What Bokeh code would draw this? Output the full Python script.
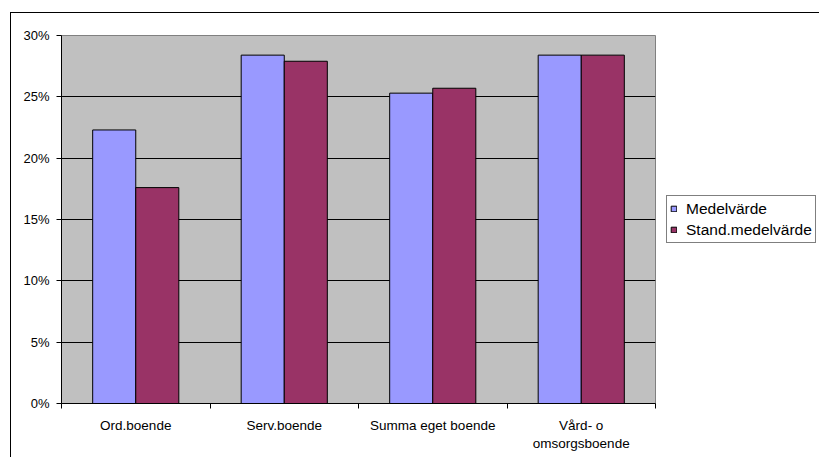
from bokeh.plotting import figure
from bokeh.models import (ColumnDataSource, Range1d, FixedTicker, LinearAxis, Grid,
                          PrintfTickFormatter, Legend, LegendItem)
from bokeh.transform import dodge
from bokeh.embed import file_html
from bokeh.resources import INLINE

categories = ["Ord.boende", "Serv.boende", "Summa eget boende", "Vård- o\nomsorgsboende"]
series_names = ["Medelvärde", "Stand.medelvärde"]
medelvarde = [22.3, 28.4, 25.3, 28.4]
stand_medelvarde = [17.6, 27.9, 25.7, 28.4]
y_ticks = [0, 5, 10, 15, 20, 25, 30]

FONT = "Liberation Sans"
centers = [i + 0.5 for i in range(len(categories))]
src = ColumnDataSource(dict(x=centers, m=medelvarde, s=stand_medelvarde))

p = figure(frame_width=594, frame_height=368, output_backend="svg", toolbar_location=None,
           x_range=Range1d(0, len(categories)), y_range=Range1d(0, 30),
           x_axis_type=None, y_axis_type=None,
           min_border_left=50, min_border_right=164, min_border_top=22, min_border_bottom=54)
p.margin = (12, 0, 0, 10)
p.styles = {"border-top": "1px solid black", "border-left": "1px solid black"}
p.background_fill_color = "#C0C0C0"
p.border_fill_color = "white"
p.outline_line_color = "#808080"
p.outline_line_width = 1

p.add_layout(Grid(dimension=1, ticker=FixedTicker(ticks=y_ticks[1:-1]),
                  grid_line_color="black", grid_line_width=1))

bw = 0.29
r1 = p.vbar(x=dodge("x", -bw / 2, range=p.x_range), top="m", width=bw, source=src,
            fill_color="#9999FF", line_color="black", line_width=1)
r2 = p.vbar(x=dodge("x", bw / 2, range=p.x_range), top="s", width=bw, source=src,
            fill_color="#993366", line_color="black", line_width=1)

# y axis
yax = LinearAxis(ticker=FixedTicker(ticks=y_ticks, minor_ticks=[]),
                 formatter=PrintfTickFormatter(format="%d%%"))
yax.axis_line_color = "black"
yax.major_tick_in = 0
yax.major_tick_out = 5
yax.major_tick_line_color = "black"
yax.minor_tick_line_color = None
yax.major_label_standoff = 7
yax.major_label_text_font = FONT
yax.major_label_text_font_size = "13px"
yax.major_label_text_color = "black"
p.add_layout(yax, "left")

# x axis: labels at centers, ticks at boundaries
xax = LinearAxis(ticker=FixedTicker(ticks=centers, minor_ticks=list(range(len(categories) + 1))))
xax.major_label_overrides = {c: lab for c, lab in zip(centers, categories)}
xax.axis_line_color = "black"
xax.major_tick_line_color = None
xax.major_tick_out = 5
xax.major_tick_in = 0
xax.minor_tick_line_color = "black"
xax.minor_tick_out = 5
xax.minor_tick_in = 0
xax.major_label_standoff = 9
xax.major_label_text_font = FONT
xax.major_label_text_font_size = "13.5px"
xax.major_label_text_color = "black"
xax.major_label_text_line_height = 1.2
p.add_layout(xax, "below")

legend = Legend(items=[LegendItem(label=series_names[0], renderers=[r1]),
                       LegendItem(label=series_names[1], renderers=[r2])],
                location="center_left")
legend.label_text_font = FONT
legend.label_text_font_size = "15.5px"
legend.label_text_color = "black"
legend.glyph_width = 7
legend.glyph_height = 7
legend.label_standoff = 9
legend.label_height = 19
legend.spacing = 2
legend.padding = 3
legend.margin = 11
legend.border_line_color = "black"
legend.border_line_width = 1
legend.background_fill_color = "white"
legend.background_fill_alpha = 1
p.add_layout(legend, "right")

open("out.html", "w").write(file_html(p, INLINE))
